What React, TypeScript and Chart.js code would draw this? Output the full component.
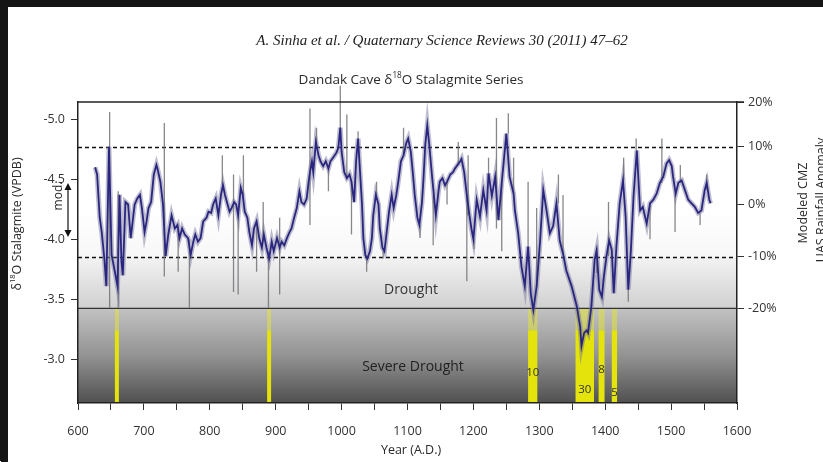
import React, { useEffect, useRef } from 'react';
import { Chart, registerables } from 'chart.js';
Chart.register(...registerables);

// ---------- DATA ----------
const smoothYears = [
  626, 629, 633, 636, 640, 643, 647, 651, 656, 660, 663, 666, 668, 672, 676, 680, 684, 686, 690, 694,
  697, 701, 704, 707, 711, 715, 719, 721, 725, 729, 733, 737, 742, 747, 751, 754, 758, 762, 767, 771,
  775, 778, 782, 786, 790, 795, 798, 802, 805, 809, 813, 817, 820, 823, 827, 830, 833, 837, 840, 843,
  847, 850, 853, 857, 860, 864, 867, 871, 875, 879, 882, 886, 890, 894, 897, 902, 906, 909, 913, 917,
  921, 924, 928, 932, 936, 939, 943, 947, 950, 952, 955, 957, 961, 965, 968, 972, 976, 980, 983, 987,
  992, 995, 998, 1000, 1004, 1008, 1012, 1015, 1019, 1022, 1025, 1028, 1031, 1033, 1036, 1039, 1043, 1046, 1048, 1052,
  1056, 1058, 1062, 1065, 1068, 1072, 1076, 1079, 1083, 1086, 1090, 1094, 1098, 1101, 1105, 1108, 1111, 1115, 1118, 1122,
  1124, 1127, 1130, 1133, 1137, 1140, 1143, 1147, 1149, 1153, 1157, 1160, 1165, 1169, 1172, 1176, 1180, 1182, 1186, 1190,
  1194, 1197, 1200, 1205, 1210, 1215, 1220, 1223, 1228, 1233, 1238, 1243, 1250, 1255, 1261, 1263, 1268, 1273, 1278, 1283,
  1287, 1291, 1296, 1301, 1306, 1311, 1316, 1321, 1326, 1331, 1336, 1341, 1349, 1357, 1362, 1364, 1368, 1372, 1374, 1379,
  1384, 1387, 1391, 1395, 1398, 1402, 1406, 1410, 1413, 1417, 1422, 1427, 1431, 1435, 1439, 1443, 1448, 1453, 1457, 1463,
  1468, 1473, 1478, 1483, 1488, 1493, 1497, 1501, 1503, 1507, 1511, 1516, 1521, 1526, 1531, 1536, 1541, 1546, 1551, 1554,
  1558, 1560,
];
const smoothValues = [
  -4.60, -4.54, -4.18, -4.06, -3.84, -3.61, -4.77, -3.87, -3.73, -3.61, -4.37, -3.81, -3.70, -4.31, -4.29, -4.01, -4.20, -4.29, -4.34, -4.37,
  -4.26, -4.06, -4.15, -4.26, -4.31, -4.54, -4.62, -4.58, -4.48, -4.29, -3.86, -4.04, -4.20, -4.09, -4.12, -4.01, -4.09, -4.04, -4.01, -3.87,
  -3.98, -4.04, -3.98, -4.01, -4.15, -4.18, -4.23, -4.22, -4.29, -4.34, -4.20, -4.37, -4.45, -4.37, -4.29, -4.23, -4.26, -4.31, -4.29, -4.20,
  -4.43, -4.37, -4.23, -4.18, -4.06, -3.95, -4.09, -4.15, -4.01, -3.93, -4.04, -3.93, -3.84, -3.98, -3.90, -4.01, -3.93, -3.98, -3.95, -4.01,
  -4.06, -4.09, -4.18, -4.26, -4.40, -4.31, -4.29, -4.34, -4.48, -4.56, -4.65, -4.56, -4.81, -4.70, -4.65, -4.61, -4.65, -4.59, -4.65, -4.68,
  -4.72, -4.76, -4.93, -4.73, -4.56, -4.51, -4.54, -4.48, -4.31, -4.65, -4.84, -4.56, -4.29, -4.01, -3.87, -3.84, -3.90, -4.01, -4.20, -4.37,
  -4.29, -4.09, -3.93, -3.90, -4.04, -4.23, -4.37, -4.26, -4.37, -4.48, -4.65, -4.70, -4.80, -4.84, -4.73, -4.56, -4.37, -4.18, -4.12, -4.31,
  -4.48, -4.79, -4.95, -4.79, -4.54, -4.37, -4.20, -4.40, -4.48, -4.51, -4.45, -4.48, -4.54, -4.56, -4.59, -4.62, -4.65, -4.67, -4.56, -4.37,
  -4.20, -4.09, -4.00, -4.33, -4.19, -4.41, -4.24, -4.55, -4.36, -4.52, -4.16, -4.47, -4.88, -4.52, -4.38, -4.24, -4.05, -3.77, -3.61, -3.94,
  -3.55, -3.41, -3.61, -3.97, -4.41, -4.24, -4.05, -4.11, -4.30, -3.99, -3.88, -3.74, -3.61, -3.44, -3.27, -3.11, -3.22, -3.24, -3.22, -3.44,
  -3.83, -3.91, -3.58, -3.52, -3.69, -3.86, -3.99, -3.91, -3.55, -3.94, -4.30, -4.49, -4.19, -3.58, -3.91, -4.36, -4.74, -4.24, -4.27, -4.13,
  -4.30, -4.33, -4.38, -4.47, -4.52, -4.63, -4.66, -4.61, -4.52, -4.38, -4.47, -4.49, -4.41, -4.33, -4.30, -4.27, -4.22, -4.24, -4.41, -4.47,
  -4.33, -4.30,
];

// raw-sample excursions (gray spikes): year, one end, other end
const spikeYears = [648, 661, 731, 752, 769, 819, 836, 843, 851, 871, 881, 889, 906, 952, 962, 980, 998, 1008, 1015, 1025,
  1038, 1053, 1063, 1094, 1119, 1139, 1160, 1177, 1190, 1192, 1201, 1223, 1235, 1243, 1253, 1261, 1283, 1296, 1329, 1336,
  1387, 1405, 1428, 1435, 1447, 1468, 1486, 1506, 1514, 1544, 1554];
const spikeFrom = [-3.43, -3.43, -3.69, -3.73, -3.43, -4.70, -3.56, -3.54, -4.70, -3.73, -4.31, -3.43, -3.54, -4.12, -4.93, -4.40, -5.28, -5.04, -4.04, -4.90,
  -3.73, -4.48, -3.84, -4.93, -4.01, -3.95, -4.29, -4.81, -3.65, -4.70, -3.92, -4.68, -5.01, -3.90, -5.05, -4.68, -4.48, -4.26, -4.54, -4.37,
  -3.93, -4.31, -4.68, -3.48, -4.84, -4.00, -4.84, -4.06, -4.62, -4.12, -4.54];
const spikeTo = [-5.06, -4.40, -4.97, -4.10, -4.00, -4.45, -4.54, -4.20, -4.37, -4.15, -4.00, -3.90, -4.18, -5.09, -4.80, -4.59, -4.90, -4.50, -4.48, -4.84,
  -3.84, -4.37, -3.90, -4.70, -4.12, -4.37, -4.48, -4.62, -4.37, -4.20, -4.00, -4.55, -4.09, -4.47, -4.88, -4.38, -3.94, -3.61, -4.30, -3.88,
  -3.72, -3.86, -4.49, -3.58, -4.74, -4.30, -4.47, -4.38, -4.47, -4.22, -4.41];

// severe drought periods (years A.D.) and their duration labels
const droughtStart = [656, 887, 1283, 1355, 1390, 1410];
const droughtEnd = [662, 893, 1297, 1383, 1399, 1418];
const droughtLabels = ['', '', '10', '30', '8', '5'];

// axes
const xMin = 600;
const xMax = 1600;
const xStep = 50;
const d18OTicks = [-5.0, -4.5, -4.0, -3.5, -3.0];
const d18OMin = -5.144;
const d18OMax = -2.636;
const rainfallTickLabels = ['20%', '10%', '0%', '-10%', '-20%'];
const rainfallTickD18O = [-5.144, -4.772, -4.294, -3.855, -3.425];
const wetThreshold = -4.772;      // +10 %
const droughtThreshold = -3.855;  // -10 %
const severeThreshold = -3.425;   // -20 %
const modernRange = [-4.47, -4.02];

// ---------- STYLE ----------
const FONT = "'Open Sans', sans-serif";
const TEXT = '#2a2a2a';

type Part = { t: string; sup?: boolean };
function drawRich(ctx: CanvasRenderingContext2D, parts: Part[], cx: number, cy: number, size: number, rot = 0, color = TEXT, style = '', family = FONT) {
  ctx.save();
  ctx.translate(cx, cy);
  ctx.rotate(rot);
  ctx.fillStyle = color;
  ctx.textAlign = 'left';
  ctx.textBaseline = 'middle';
  const sup = size * 0.6;
  const widths = parts.map((p) => {
    ctx.font = `${style}${p.sup ? sup : size}px ${family}`;
    return ctx.measureText(p.t).width;
  });
  const total = widths.reduce((a, b) => a + b, 0);
  let x = -total / 2;
  parts.forEach((p, i) => {
    ctx.font = `${style}${p.sup ? sup : size}px ${family}`;
    ctx.fillText(p.t, x, p.sup ? -size * 0.33 : 0);
    x += widths[i];
  });
  ctx.restore();
}

const backgroundPlugin = {
  id: 'bgZones',
  beforeDraw(chart: any) {
    const { ctx, chartArea: a, scales } = chart;
    const x = scales.x;
    const y = scales.y;
    ctx.save();
    ctx.fillStyle = '#ffffff';
    ctx.fillRect(0, 0, chart.width, chart.height);

    const yD = y.getPixelForValue(droughtThreshold);
    const yS = y.getPixelForValue(severeThreshold);
    let g = ctx.createLinearGradient(0, a.top, 0, yD);
    g.addColorStop(0, '#ffffff');
    g.addColorStop(0.7, '#ffffff');
    g.addColorStop(1, '#f7f7f7');
    ctx.fillStyle = g;
    ctx.fillRect(a.left, a.top, a.right - a.left, yD - a.top);
    g = ctx.createLinearGradient(0, yD, 0, yS);
    g.addColorStop(0, '#f3f3f3');
    g.addColorStop(1, '#d0d0d0');
    ctx.fillStyle = g;
    ctx.fillRect(a.left, yD, a.right - a.left, yS - yD);
    g = ctx.createLinearGradient(0, yS, 0, a.bottom);
    g.addColorStop(0, '#c2c2c2');
    g.addColorStop(0.5, '#939393');
    g.addColorStop(1, '#505050');
    ctx.fillStyle = g;
    ctx.fillRect(a.left, yS, a.right - a.left, a.bottom - yS);

    // drought bands
    const brightTop = yS + 22;
    droughtStart.forEach((s, i) => {
      const x0 = x.getPixelForValue(s);
      const x1 = x.getPixelForValue(droughtEnd[i]);
      ctx.fillStyle = 'rgba(225,228,60,0.55)';
      ctx.fillRect(x0, yS, x1 - x0, brightTop - yS);
      ctx.fillStyle = '#e4e40c';
      ctx.fillRect(x0, brightTop, x1 - x0, a.bottom - brightTop);
    });
    const labelDy = [0, 0, -30, -13, -33, -10];
    ctx.fillStyle = '#333';
    ctx.font = `11.5px ${FONT}`;
    ctx.textAlign = 'center';
    ctx.textBaseline = 'middle';
    droughtLabels.forEach((l, i) => {
      if (!l) return;
      const cx = x.getPixelForValue((droughtStart[i] + droughtEnd[i]) / 2);
      ctx.fillText(l, cx, a.bottom + labelDy[i]);
    });

    // zone labels
    ctx.fillStyle = '#333';
    ctx.font = `14px ${FONT}`;
    ctx.fillText('Drought', 411, 290);
    ctx.fillStyle = '#222';
    ctx.fillText('Severe Drought', 413, 367);

    // threshold lines
    ctx.strokeStyle = '#111';
    ctx.lineWidth = 1.3;
    ctx.setLineDash([4, 3]);
    [wetThreshold, droughtThreshold].forEach((v) => {
      const py = Math.round(y.getPixelForValue(v)) + 0.5;
      ctx.beginPath();
      ctx.moveTo(a.left, py);
      ctx.lineTo(a.right, py);
      ctx.stroke();
    });
    ctx.setLineDash([]);
    ctx.strokeStyle = '#333';
    ctx.lineWidth = 1.2;
    ctx.beginPath();
    ctx.moveTo(a.left, yS);
    ctx.lineTo(a.right, yS);
    ctx.stroke();
    ctx.restore();
  },
  afterDraw(chart: any) {
    const { ctx, chartArea: a, scales } = chart;
    const y = scales.y;
    ctx.save();
    // top frame line
    ctx.strokeStyle = '#222';
    ctx.lineWidth = 1.5;
    ctx.beginPath();
    ctx.moveTo(a.left, a.top);
    ctx.lineTo(a.right + 7, a.top);
    ctx.stroke();

    // left tick labels
    ctx.fillStyle = '#333';
    ctx.font = `12.5px ${FONT}`;
    ctx.textAlign = 'right';
    ctx.textBaseline = 'middle';
    d18OTicks.forEach((v) => {
      ctx.fillText(v.toFixed(1), a.left - 13, y.getPixelForValue(v));
    });

    drawRich(ctx, [{ t: 'A. Sinha et al. / Quaternary Science Reviews 30 (2011) 47–62' }], 442, 41, 15, 0, '#222', 'italic ', "'Liberation Serif', serif");
    drawRich(ctx, [{ t: 'Dandak Cave δ' }, { t: '18', sup: true }, { t: 'O Stalagmite Series' }], 411, 80, 13.5);
    drawRich(ctx, [{ t: 'Year (A.D.)' }], 411, 450, 12.5);
    drawRich(ctx, [{ t: 'δ' }, { t: '18', sup: true }, { t: 'O Stalagmite (VPDB)' }], 17, 224, 12.5, -Math.PI / 2);
    drawRich(ctx, [{ t: 'Modeled CMZ' }], 803, 203, 12.5, -Math.PI / 2);
    drawRich(ctx, [{ t: 'UAS Rainfall Anomaly' }], 821, 200, 12.5, -Math.PI / 2);
    drawRich(ctx, [{ t: 'mod.' }], 59, 196, 12, -Math.PI / 2);

    // modern range double arrow
    const ax = 68;
    const yA = y.getPixelForValue(modernRange[0]);
    const yB = y.getPixelForValue(modernRange[1]);
    ctx.strokeStyle = '#111';
    ctx.fillStyle = '#111';
    ctx.lineWidth = 1.2;
    ctx.beginPath();
    ctx.moveTo(ax, yA + 4);
    ctx.lineTo(ax, yB - 4);
    ctx.stroke();
    ctx.beginPath();
    ctx.moveTo(ax, yA);
    ctx.lineTo(ax - 3.5, yA + 7);
    ctx.lineTo(ax + 3.5, yA + 7);
    ctx.closePath();
    ctx.fill();
    ctx.beginPath();
    ctx.moveTo(ax, yB);
    ctx.lineTo(ax - 3.5, yB - 7);
    ctx.lineTo(ax + 3.5, yB - 7);
    ctx.closePath();
    ctx.fill();

    // dark scan edges
    ctx.fillStyle = '#151515';
    ctx.fillRect(0, 0, 8, chart.height);
    ctx.fillRect(0, 0, chart.width, 7);
    ctx.fillStyle = '#ffffff';
    ctx.fillRect(0, chart.height - 1, 1, 1);
    ctx.restore();
  },
};

export default function App() {
  const ref = useRef<HTMLCanvasElement | null>(null);
  useEffect(() => {
    document.body.style.margin = '0';
    const canvas = ref.current!;
    const smoothPts = smoothYears.map((yr, i) => ({ x: yr, y: smoothValues[i] }));
    const spikePts: any[] = [];
    spikeYears.forEach((yr, i) => {
      spikePts.push({ x: yr, y: spikeFrom[i] });
      spikePts.push({ x: yr, y: spikeTo[i] });
      spikePts.push({ x: yr, y: null });
    });
    const tickFont = { family: FONT, size: 12.5 };
    const chart = new Chart(canvas, {
      type: 'line',
      data: {
        datasets: [
          { label: 'smoothed', data: smoothPts, borderColor: '#2a2680', borderWidth: 1.8, pointRadius: 0, tension: 0, order: 1 },
          { label: 'raw', data: spikePts, borderColor: 'rgba(115,115,120,0.85)', borderWidth: 1.3, pointRadius: 0, spanGaps: false, clip: false as any, order: 2 },
          { label: 'raw band', data: smoothPts, borderColor: 'rgba(110,110,150,0.45)', borderWidth: 5, pointRadius: 0, tension: 0, order: 3 },
        ],
      } as any,
      options: {
        responsive: false,
        animation: false,
        devicePixelRatio: 1,
        layout: { padding: { top: 102, left: 0, right: 0, bottom: 0 } },
        plugins: { legend: { display: false }, tooltip: { enabled: false }, title: { display: false } },
        scales: {
          x: {
            type: 'linear', min: xMin, max: xMax, position: 'bottom',
            afterFit: (s: any) => { s.height = 59; },
            ticks: { stepSize: xStep, autoSkip: false, maxRotation: 0, color: '#333', font: tickFont, padding: 14,
              callback: (v: any) => (Number(v) % 100 === 0 ? String(v) : '') },
            grid: { drawOnChartArea: false, drawTicks: true, tickLength: 7, color: '#333', lineWidth: 1 },
            border: { display: true, color: '#222', width: 1.5 },
          },
          y: {
            type: 'linear', position: 'left', min: d18OMin, max: d18OMax, reverse: true,
            afterFit: (s: any) => { s.width = 78; },
            afterBuildTicks: (s: any) => { s.ticks = d18OTicks.map((v) => ({ value: v })); },
            ticks: { color: 'rgba(0,0,0,0)', font: tickFont, padding: 6, callback: (v: any) => Number(v).toFixed(1) },
            grid: { drawOnChartArea: false, drawTicks: true, tickLength: 7, color: '#333' },
            border: { display: true, color: '#222', width: 1.5 },
          },
          y2: {
            type: 'linear', position: 'right', min: d18OMin, max: d18OMax, reverse: true,
            afterFit: (s: any) => { s.width = 86; },
            afterBuildTicks: (s: any) => { s.ticks = rainfallTickD18O.map((v) => ({ value: v })); },
            ticks: { color: '#333', font: tickFont, padding: 4, callback: (_v: any, i: number) => rainfallTickLabels[i] },
            grid: { drawOnChartArea: false, drawTicks: true, tickLength: 7, color: '#333' },
            border: { display: true, color: '#222', width: 1.5 },
          },
        },
      } as any,
      plugins: [backgroundPlugin],
    });
    return () => chart.destroy();
  }, []);
  return (
    <div style={{ position: 'relative', width: 823, height: 462, overflow: 'hidden' }}>
      <canvas ref={ref} width={823} height={462} style={{ display: 'block', width: 823, height: 462 }} />
    </div>
  );
}
